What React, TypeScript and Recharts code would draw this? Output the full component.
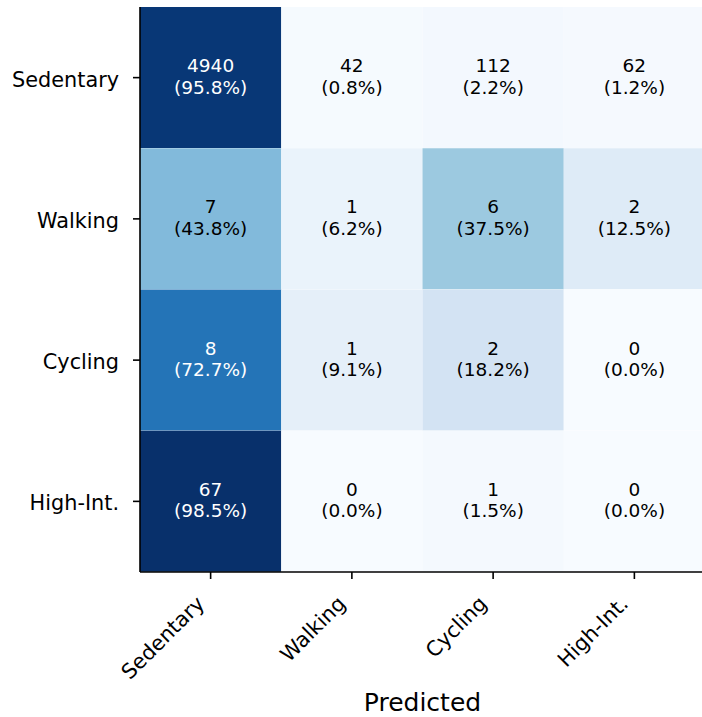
import { BarChart, Bar, XAxis, YAxis } from "recharts";

const CLASSES = ["Sedentary", "Walking", "Cycling", "High-Int."];

// confusion matrix, rows = actual, cols = predicted
const COUNTS = [
  [4940, 42, 112, 62],
  [7, 1, 6, 2],
  [8, 1, 2, 0],
  [67, 0, 1, 0],
];

const PERCENTS = [
  [95.8, 0.8, 2.2, 1.2],
  [43.8, 6.2, 37.5, 12.5],
  [72.7, 9.1, 18.2, 0.0],
  [98.5, 0.0, 1.5, 0.0],
];

const BLUES = [
  "#f7fbff", "#deebf7", "#c6dbef", "#9ecae1", "#6baed6",
  "#4292c6", "#2171b5", "#08519c", "#08306b",
];

const MAX_PCT = Math.max(...PERCENTS.flat());
const FONT = "'DejaVu Sans', Verdana, sans-serif";

function hexToRgb(h: string) {
  return [1, 3, 5].map((i) => parseInt(h.slice(i, i + 2), 16));
}

function blues(t: number) {
  const v = Math.min(1, Math.max(0, t)) * (BLUES.length - 1);
  const i = Math.min(BLUES.length - 2, Math.floor(v));
  const f = v - i;
  const a = hexToRgb(BLUES[i]);
  const b = hexToRgb(BLUES[i + 1]);
  const c = a.map((x, k) => Math.round(x + (b[k] - x) * f));
  return `rgb(${c[0]},${c[1]},${c[2]})`;
}

// each cell spans one unit on the predicted axis
const data = CLASSES.map((name) => ({ name, p0: 1, p1: 1, p2: 1, p3: 1 }));

function makeCell(col: number) {
  return (props: any) => {
    const { x, y, width, height, index } = props;
    const pct = PERCENTS[index][col];
    const cx = x + width / 2;
    const cy = y + height / 2;
    const textColor = pct > 50 ? "#fff" : "#000";
    return (
      <g>
        <rect x={x} y={y} width={width} height={height} fill={blues(pct / MAX_PCT)} />
        <text x={cx} y={cy - 5.3} textAnchor="middle" fontSize={18.5} fontFamily={FONT} fill={textColor}>
          {COUNTS[index][col]}
        </text>
        <text x={cx} y={cy + 16} textAnchor="middle" fontSize={18.5} fontFamily={FONT} fill={textColor}>
          ({pct.toFixed(1)}%)
        </text>
      </g>
    );
  };
}

function XTick(props: any) {
  const { x, y, payload } = props;
  const label = CLASSES[Math.floor(payload.value)];
  return (
    <g transform={`translate(${x - 5},${y + 26})`}>
      <text x={0} y={0} transform="rotate(-45)" textAnchor="end" fontSize={20.8} fontFamily={FONT} fill="#000">
        {label}
      </text>
    </g>
  );
}

function YTick(props: any) {
  const { x, y, payload } = props;
  return (
    <text x={x} y={y + 1.5} dy="0.355em" textAnchor="end" fontSize={20.8} fontFamily={FONT} fill="#000">
      {payload.value}
    </text>
  );
}

const spine = { stroke: "#000", strokeWidth: 1.6 };

export default function App() {
  return (
    <div style={{ position: "absolute", left: 0, top: 0, width: 702, height: 717, overflow: "hidden", background: "#fff" }}>
      <BarChart
        width={710}
        height={717}
        data={data}
        layout="vertical"
        barCategoryGap={0}
        margin={{ top: 7, right: 5, bottom: 0, left: 0 }}
      >
        <XAxis
          type="number"
          domain={[0, 4]}
          ticks={[0.5, 1.5, 2.5, 3.5]}
          allowDataOverflow
          height={145}
          tickSize={7}
          tickMargin={0}
          tickLine={spine}
          axisLine={spine}
          tick={<XTick />}
          label={{ value: "Predicted", position: "insideBottom", offset: 6, fill: "#000", fontSize: 25, fontFamily: FONT }}
        />
        <XAxis
          xAxisId="top"
          orientation="top"
          type="number"
          domain={[0, 4]}
          height={0}
          tick={false}
          tickLine={false}
          axisLine={spine}
        />
        <YAxis
          type="category"
          dataKey="name"
          width={140}
          tickSize={7}
          tickMargin={14}
          tickLine={spine}
          axisLine={spine}
          tick={<YTick />}
        />
        {[0, 1, 2, 3].map((j) => (
          <Bar key={j} dataKey={`p${j}`} stackId="cm" isAnimationActive={false} shape={makeCell(j)} />
        ))}
      </BarChart>
    </div>
  );
}
